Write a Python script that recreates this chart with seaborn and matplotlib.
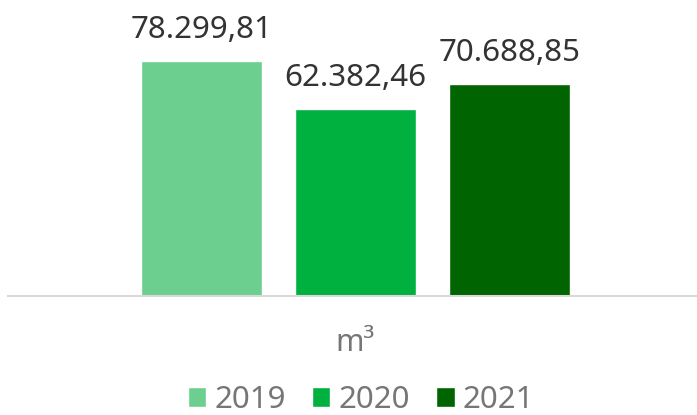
import pandas as pd
import matplotlib
matplotlib.use("Agg")
import matplotlib.pyplot as plt
import seaborn as sns

# --- DATA ---
UNIT = "m³"
YEARS = ["2019", "2020", "2021"]
VOLUMES = [78299.81, 62382.46, 70688.85]
COLORS = ["#6CCF8F", "#00B140", "#006400"]


def fmt_br(v):
    # 78,299.81 -> 78.299,81
    s = f"{v:,.2f}"
    return s.replace(",", "X").replace(".", ",").replace("X", ".")


sns.set_style("white")
plt.rcParams['font.family'] = ['Noto Sans', 'DejaVu Sans']

df = pd.DataFrame({"unit": [UNIT] * len(YEARS), "year": YEARS, "value": VOLUMES})

fig = plt.figure(figsize=(6.97, 4.15), dpi=100)
W, H = 697, 415
ax = fig.add_axes([8 / W, (H - 296) / H, (697 - 8) / W, 296 / H])

sns.barplot(data=df, x="unit", y="value", hue="year", palette=COLORS,
            width=0.8, gap=0.21, saturation=1, ax=ax)

ax.set_xlim(-0.6017, 0.5914)
ax.set_ylim(0, 98600)
ax.set_yticks([])
ax.set_xlabel("")
ax.set_ylabel("")
for s in ["top", "left", "right"]:
    ax.spines[s].set_visible(False)
ax.spines["bottom"].set_color("#D9D9D9")
ax.spines["bottom"].set_linewidth(1.5)
ax.tick_params(axis="x", length=0, pad=23, labelsize=22, labelcolor="#767676")

# value labels above bars
for bar, v in zip(ax.patches, VOLUMES):
    ax.annotate(fmt_br(v), (bar.get_x() + bar.get_width() / 2, bar.get_height()),
                xytext=(0, 16.5), textcoords="offset points",
                ha="center", va="baseline", fontsize=22.5, color="#333333")

handles, labels = ax.get_legend_handles_labels()
ax.get_legend().remove()
fig.legend(handles, labels, loc="center", bbox_to_anchor=(361 / W, (H - 400) / H),
           ncol=3, frameon=False, fontsize=22.5, labelcolor="#767676",
           handlelength=0.58, handleheight=0.58, handletextpad=0.26,
           columnspacing=0.85, borderpad=0)

fig.savefig("out.png", dpi=100)
